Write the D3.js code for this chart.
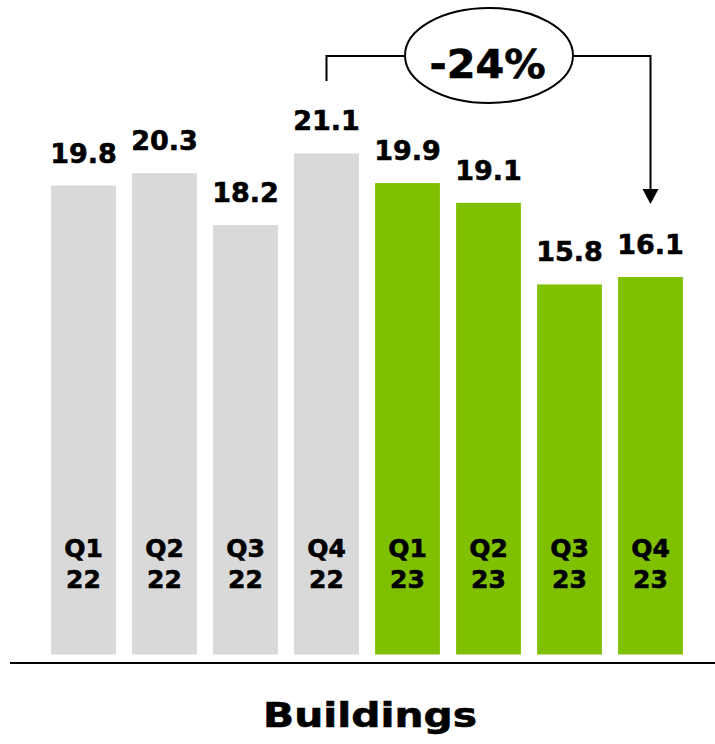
<!DOCTYPE html>
<html>
<head>
<meta charset="utf-8">
<script src="https://cdn.jsdelivr.net/npm/d3@7"></script>
<style>
  html, body { margin: 0; padding: 0; background: #fff; }
  svg { display: block; }
  text { font-family: "DejaVu Sans", Verdana, sans-serif; font-weight: bold; fill: #000;
         stroke: #000; stroke-width: 0.6px; paint-order: stroke; }
</style>
</head>
<body>
<svg id="chart" width="715" height="744"></svg>
<script>
// Quarterly values for the Buildings segment
const quarters = ["Q1", "Q2", "Q3", "Q4", "Q1", "Q2", "Q3", "Q4"];
const years = ["22", "22", "22", "22", "23", "23", "23", "23"];
const values = [19.8, 20.3, 18.2, 21.1, 19.9, 19.1, 15.8, 16.1];
const changeLabel = "-24%";
const title = "Buildings";

const W = 715, H = 744;
const svg = d3.select("#chart");

const data = quarters.map((q, i) => ({ key: q + " " + years[i], q, yr: years[i], v: values[i], i }));

const x = d3.scaleBand()
  .domain(data.map(d => d.key))
  .range([43, 691])
  .paddingInner(0.2)
  .paddingOuter(0.1);

const y = d3.scaleLinear().domain([0, 25]).range([675, 57]);
const floorY = 654.5;   // bars are cut at the plot floor, above the axis rule

const colorFor = d => d.yr === "22" ? "#d9d9d9" : "#7fc000";

// bars
svg.append("g").selectAll("rect").data(data).join("rect")
  .attr("x", d => x(d.key))
  .attr("y", d => y(d.v))
  .attr("width", x.bandwidth())
  .attr("height", d => floorY - y(d.v))
  .attr("fill", colorFor);

// value labels above bars
svg.append("g").selectAll("text").data(data).join("text")
  .attr("x", d => x(d.key) + x.bandwidth() / 2)
  .attr("y", d => y(d.v) - 23)
  .attr("text-anchor", "middle")
  .style("font-size", "27px")
  .text(d => d.v.toFixed(1));

// quarter / year labels inside bars
const ql = svg.append("g").selectAll("text").data(data).join("text")
  .attr("text-anchor", "middle")
  .style("font-size", "25px");
ql.append("tspan")
  .attr("x", d => x(d.key) + x.bandwidth() / 2)
  .attr("y", 557)
  .text(d => d.q);
ql.append("tspan")
  .attr("x", d => x(d.key) + x.bandwidth() / 2)
  .attr("y", 588)
  .text(d => d.yr);

// axis rule
svg.append("line")
  .attr("x1", 10).attr("x2", W)
  .attr("y1", 663).attr("y2", 663)
  .attr("stroke", "#000").attr("stroke-width", 2);

// change annotation: bracket from Q4 22 to Q4 23
const from = data[3], to = data[7];
const xa = x(from.key) + x.bandwidth() / 2;
const xb = x(to.key) + x.bandwidth() / 2;
const bracketY = 56;
const cx = (xa + xb) / 2;
const arrowTip = 204;

const ann = svg.append("g");
ann.append("path")
  .attr("d", `M${xa},81 V${bracketY} H${xb} V${arrowTip - 14}`)
  .attr("fill", "none").attr("stroke", "#000").attr("stroke-width", 2);
ann.append("path")
  .attr("d", `M${xb - 8},${arrowTip - 15} L${xb + 8},${arrowTip - 15} L${xb},${arrowTip} Z`)
  .attr("fill", "#000");
ann.append("ellipse")
  .attr("cx", cx + 0.5).attr("cy", 55.5)
  .attr("rx", 84).attr("ry", 47.5)
  .attr("fill", "#fff").attr("stroke", "#000").attr("stroke-width", 2);
ann.append("text")
  .attr("transform", `translate(${cx - 1},78) scale(1.06,1)`)
  .attr("text-anchor", "middle")
  .style("font-size", "39px")
  .text(changeLabel);

// segment title
svg.append("text")
  .attr("transform", "translate(370,727) scale(1.2,1)")
  .attr("text-anchor", "middle")
  .style("font-size", "34px")
  .text(title);
</script>
</body>
</html>
